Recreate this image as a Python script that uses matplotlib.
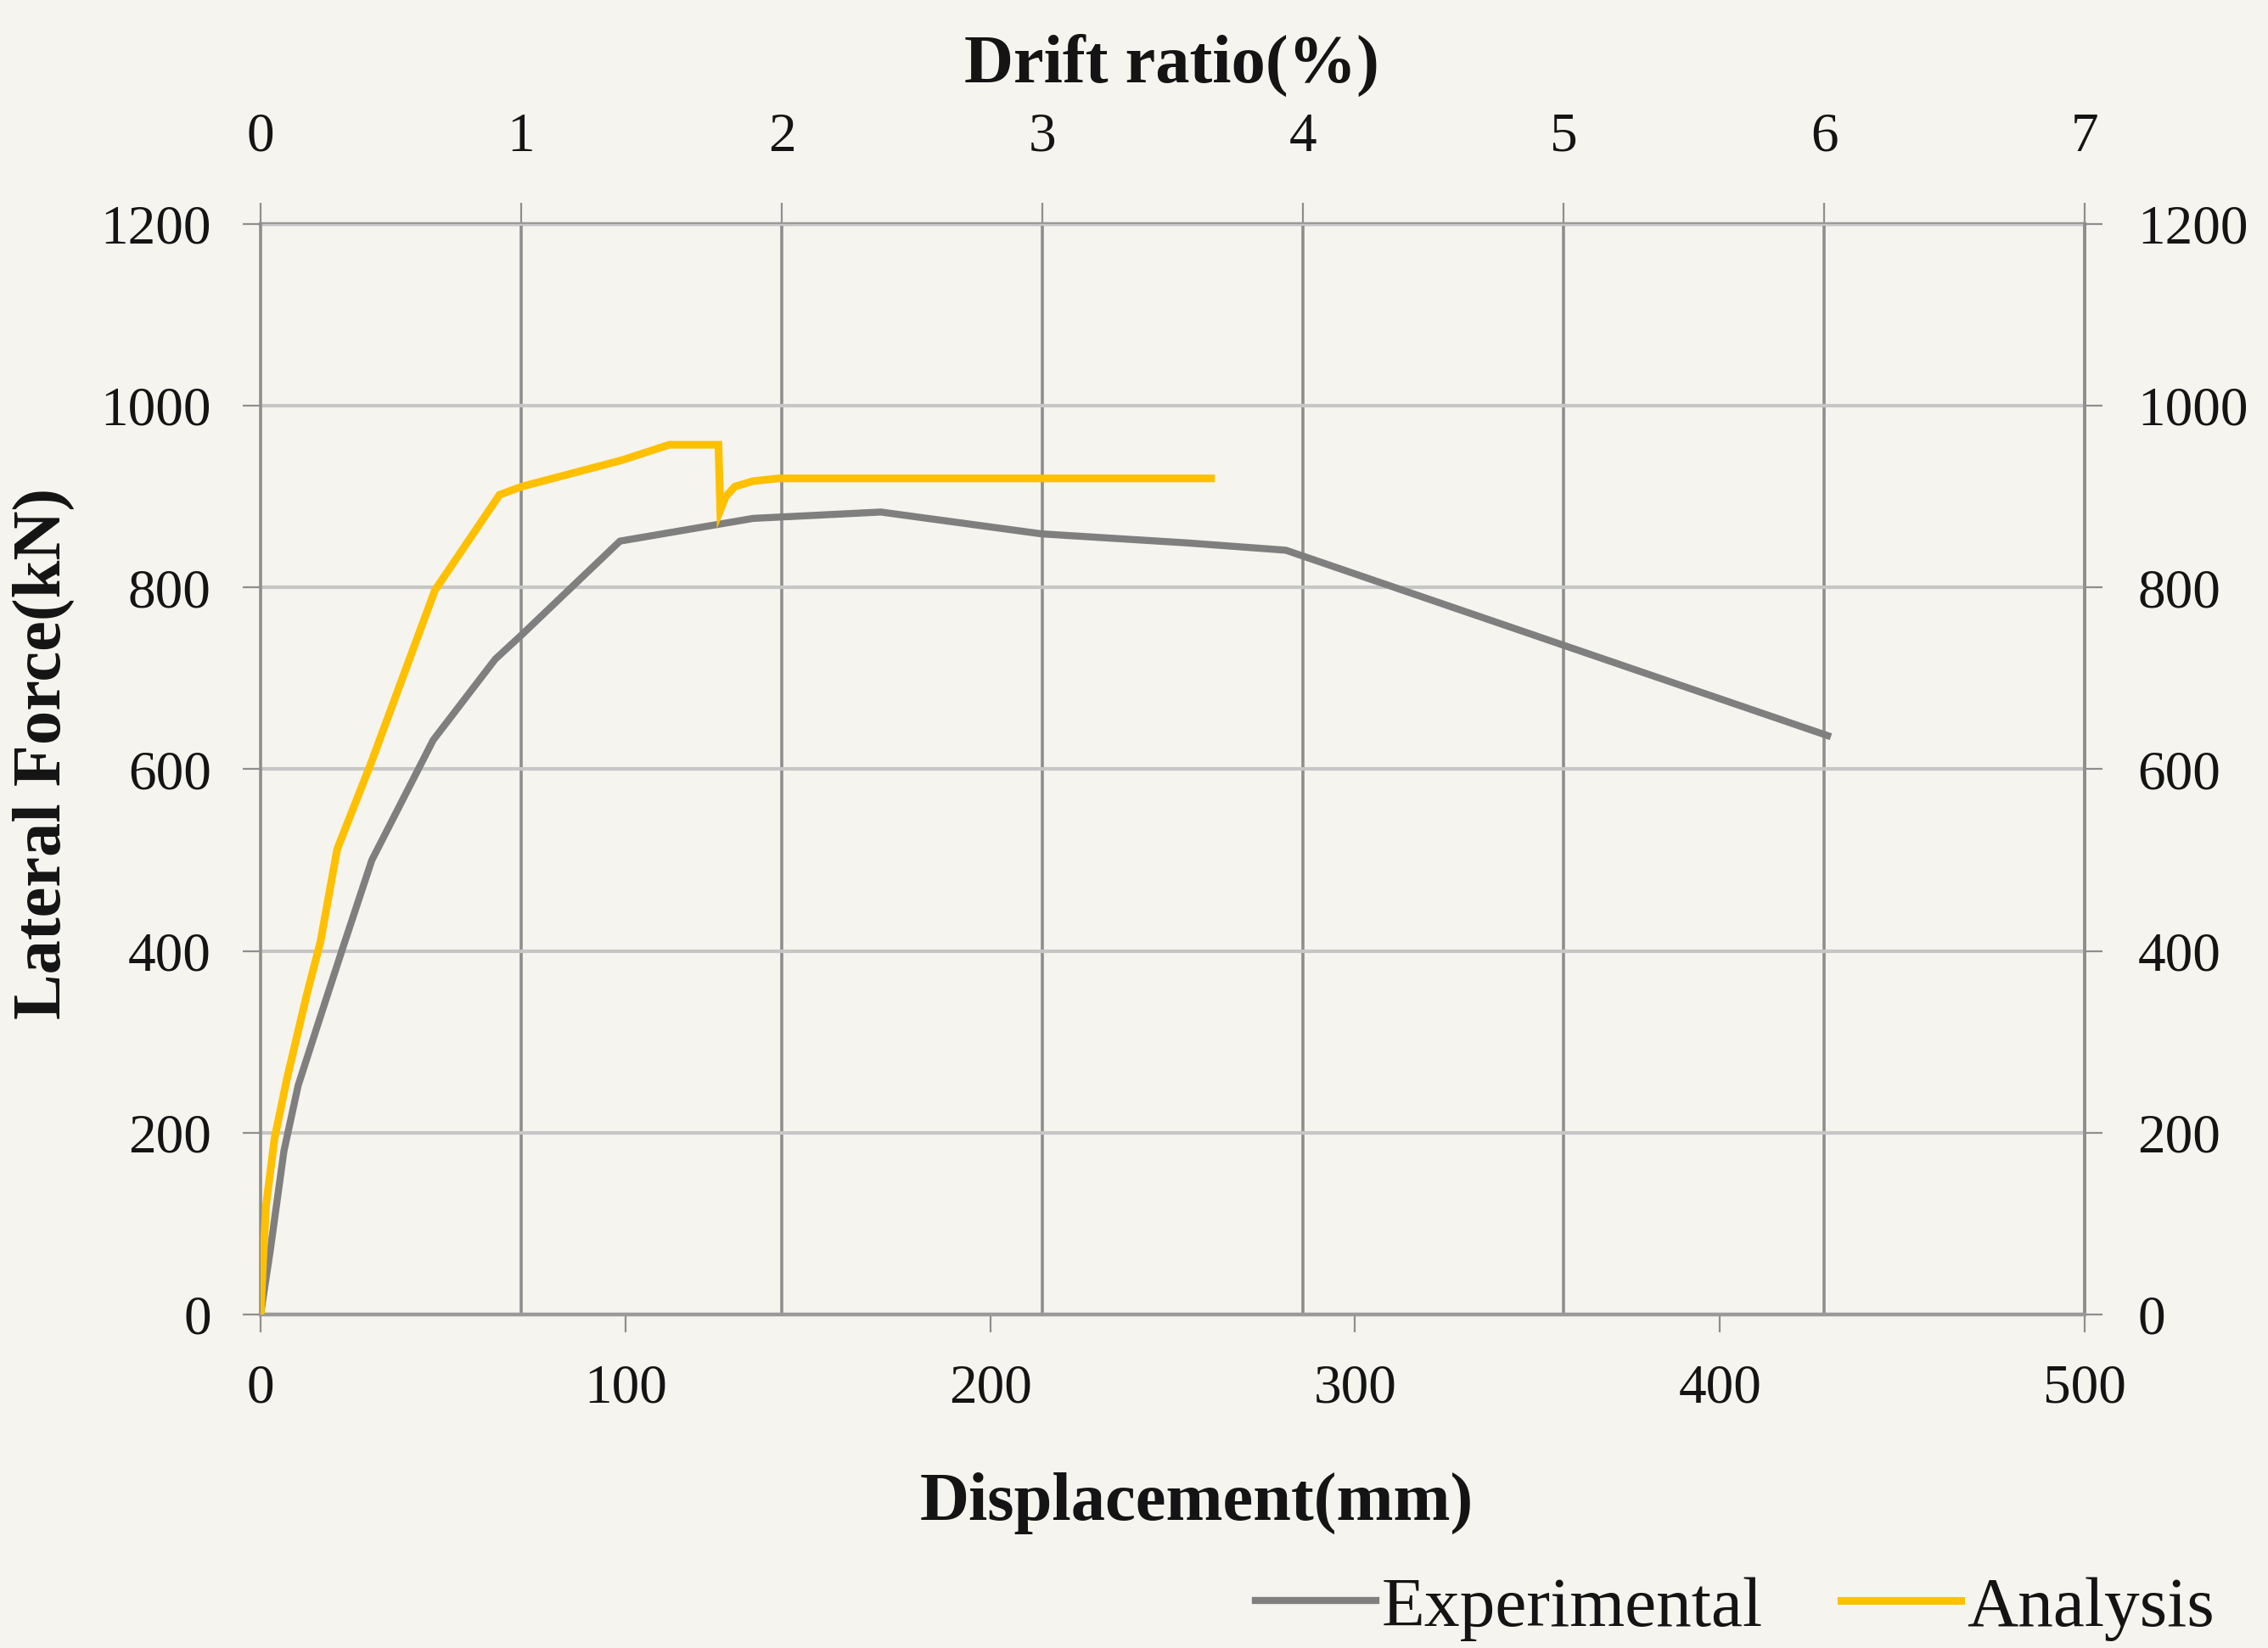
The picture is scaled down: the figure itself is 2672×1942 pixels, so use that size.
import numpy as np
import matplotlib; matplotlib.use("Agg")
import matplotlib.pyplot as plt

# values
exp_disp  = [0, 2.6, 6.4, 10.3, 15.6, 22.5, 30.5, 47.3, 64.3, 71.6, 98.5, 135, 170, 214, 254, 281, 429.5]
exp_force = [0, 69, 180, 252, 318, 403, 500, 632, 721, 748, 851, 876, 883, 859, 849, 841, 637]

ana_disp  = [0, 0.7, 1.5, 3.8, 7.2, 12.6, 16.4, 21, 30.2, 47.8, 65.5, 71.6, 99, 112, 125.5, 126, 127.5, 130, 135, 142, 260.5]
ana_force = [0, 60, 120, 193, 259, 351, 410, 512, 606, 797, 902, 911, 940, 957, 957, 885, 900, 911, 917, 920, 920]

disp_ticks  = [0, 100, 200, 300, 400, 500]
force_ticks = [0, 200, 400, 600, 800, 1000, 1200]
drift_ticks = [0, 1, 2, 3, 4, 5, 6, 7]
MM_PER_PCT = 500 / 7

SERIF = ["Liberation Serif", "DejaVu Serif"]
plt.rcParams["font.family"] = SERIF
BG = "#f5f4ee"; VGRID = "#8e8e8e"; HGRID = "#c6c6c6"; TXT = "#141414"

fig = plt.figure(figsize=(26.72, 19.42), dpi=100, facecolor=BG)
ax = fig.add_axes([0.1149, 0.2024, 0.8043, 0.6617])
ax.set_facecolor("none")

ax.plot(exp_disp, exp_force, color="#7f7f7f", lw=6, solid_joinstyle="round", zorder=3, label="Experimental")
ax.plot(ana_disp, ana_force, color="#ffc000", lw=6.5, solid_joinstyle="miter", zorder=4, label="Analysis")

ax.set_xlim(0, 500); ax.set_ylim(0, 1200)
ax.set_xticks(disp_ticks); ax.set_yticks(force_ticks)
ax.set_xticks([d * MM_PER_PCT for d in drift_ticks], minor=True)
ax.grid(axis="y", which="major", color=HGRID, lw=3)
ax.grid(axis="x", which="minor", color=VGRID, lw=2.6)
ax.set_axisbelow(True)
ax.tick_params(axis="x", which="minor", length=0)
ax.tick_params(axis="x", which="major", direction="out", length=15, width=1.6, color=VGRID,
               labelsize=47, labelcolor=TXT, pad=27)
ax.tick_params(axis="y", direction="out", length=15, width=1.6, color=VGRID,
               labelsize=47, labelcolor=TXT, pad=27)
for s in ["left", "right"]:
    ax.spines[s].set_color(VGRID); ax.spines[s].set_linewidth(2.6)
ax.spines["bottom"].set_color("#9a9a9a"); ax.spines["bottom"].set_linewidth(3.2)
ax.spines["top"].set_visible(False)

top = ax.secondary_xaxis("top", functions=(lambda x: x / MM_PER_PCT, lambda d: d * MM_PER_PCT))
top.set_xticks(drift_ticks)
top.tick_params(direction="out", length=18, width=1.6, color=VGRID, labelsize=47, labelcolor=TXT, pad=34)
top.spines["top"].set_color("#9a9a9a"); top.spines["top"].set_linewidth(3.2)

right = ax.secondary_yaxis("right")
right.set_yticks(force_ticks)
right.tick_params(direction="out", length=15, width=1.6, color=VGRID, labelsize=47, labelcolor=TXT, pad=30)
right.spines["right"].set_color(VGRID); right.spines["right"].set_linewidth(2.6)

fig.text(0.5165, 0.9605, "Drift ratio(%)", ha="center", va="center", fontsize=58, fontweight="bold", color=TXT)
fig.text(0.5277, 0.0877, "Displacement(mm)", ha="center", va="center", fontsize=58, fontweight="bold", color=TXT)
fig.text(0.0191, 0.5427, "Lateral Force(kN)", ha="center", va="center", rotation=90,
         fontsize=58, fontweight="bold", color=TXT)

fig.legend(loc="center", bbox_to_anchor=(0.765, 0.024), ncol=2, frameon=False, fontsize=60,
           handlelength=1.7, handletextpad=0.08, columnspacing=1.1, labelcolor=TXT)

plt.savefig("out.png", dpi=100, facecolor=BG)
plt.close()
